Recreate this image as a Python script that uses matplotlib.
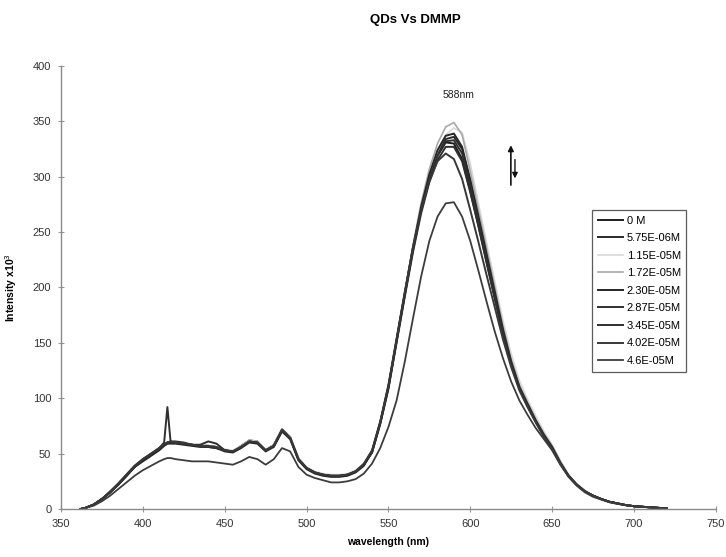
import matplotlib
matplotlib.use('Agg')
import matplotlib.pyplot as plt

plt.rcParams['font.family'] = ['Liberation Sans', 'DejaVu Sans']

# wavelength grid (nm), finer around the 415 nm spike
wl = [362, 365, 370, 375, 380, 385, 390, 395, 400, 405,
      410, 413, 415, 417, 420, 425, 430, 435, 440, 445,
      450, 455, 460, 465, 470, 475, 480, 485, 490, 495,
      500, 505, 510, 515, 520, 525, 530, 535,
      540, 545, 550, 555, 560, 565, 570, 575, 580, 585,
      590, 595, 600, 605, 610, 615, 620, 625, 630, 635,
      640, 645, 650, 655, 660, 665, 670, 675, 680, 685,
      690, 695, 700, 705, 710, 715, 720]

labels = ['0 M', '5.75E-06M', '1.15E-05M', '1.72E-05M', '2.30E-05M',
          '2.87E-05M', '3.45E-05M', '4.02E-05M', '4.6E-05M']

s0 = [0, 1, 4, 9, 15, 22, 30, 38, 44, 49,
      54, 58, 60, 60, 60, 59, 58, 57, 57, 56,
      53, 52, 56, 61, 60, 53, 57, 71, 64, 45,
      37, 33, 31, 30, 30, 31, 34, 40,
      52, 78, 111, 153, 195, 236, 271, 299, 319, 331,
      330, 316, 287, 256, 223, 190, 158, 131, 109, 93,
      79, 66, 55, 41, 30, 22, 16, 12, 9, 6.5,
      5, 3.5, 2.5, 2, 1.5, 1, 0.5]
s1 = [0, 1, 4, 9, 16, 23, 31, 39, 45, 50,
      55, 58, 60, 61, 61, 60, 58, 57, 57, 55,
      53, 52, 57, 62, 61, 53, 58, 72, 65, 46,
      37, 33, 31, 30, 30, 31, 34, 40,
      52, 78, 110, 152, 194, 235, 271, 300, 321, 334,
      336, 325, 296, 263, 229, 196, 163, 134, 111, 95,
      80, 67, 56, 42, 30, 22, 16, 12, 9, 6.5,
      5, 3.5, 2.5, 2, 1.5, 1, 0.5]
s2 = [0, 1, 4, 9, 15, 22, 30, 38, 44, 49,
      54, 57, 59, 60, 60, 59, 58, 58, 57, 56,
      54, 53, 57, 62, 61, 54, 58, 71, 65, 46,
      38, 34, 32, 31, 31, 32, 35, 41,
      51, 76, 107, 148, 190, 232, 270, 300, 323, 338,
      344, 340, 312, 276, 240, 205, 170, 140, 116, 99,
      84, 70, 58, 44, 31, 23, 17, 12, 9, 6.5,
      5, 3.5, 2.5, 2, 1.5, 1, 0.5]
s3 = [0, 1, 4, 9, 15, 22, 30, 38, 44, 49,
      54, 57, 59, 60, 60, 59, 58, 57, 57, 56,
      53, 52, 56, 61, 60, 53, 57, 70, 64, 45,
      37, 33, 31, 30, 30, 31, 34, 40,
      52, 78, 110, 152, 195, 238, 276, 307, 330, 345,
      349, 338, 305, 270, 235, 200, 165, 135, 112, 96,
      81, 68, 57, 43, 31, 22, 16, 12, 9, 6.5,
      5, 3.5, 2.5, 2, 1.5, 1, 0.5]
s4 = [0, 1, 4, 9, 15, 22, 30, 38, 43, 48,
      53, 57, 59, 59, 59, 58, 57, 56, 56, 55,
      52, 51, 55, 60, 59, 52, 56, 70, 63, 44,
      36, 32, 30, 29, 29, 30, 33, 39,
      52, 78, 110, 152, 194, 236, 273, 302, 324, 337,
      339, 327, 297, 264, 230, 196, 162, 133, 110, 95,
      80, 67, 56, 42, 30, 22, 16, 12, 9, 6.5,
      5, 3.5, 2.5, 2, 1.5, 1, 0.5]
s5 = [0, 1, 4, 9, 15, 22, 30, 38, 44, 49,
      55, 60, 92, 60, 60, 59, 58, 57, 56, 55,
      53, 52, 56, 61, 60, 53, 57, 71, 64, 45,
      37, 33, 31, 30, 30, 31, 34, 40,
      51, 77, 109, 151, 193, 234, 270, 298, 319, 332,
      333, 321, 292, 260, 226, 193, 160, 132, 110, 94,
      79, 66, 55, 41, 30, 22, 16, 12, 9, 6.5,
      5, 3.5, 2.5, 2, 1.5, 1, 0.5]
s6 = [0, 1, 4, 9, 15, 22, 30, 38, 44, 49,
      54, 58, 60, 60, 60, 59, 58, 58, 61, 59,
      53, 52, 56, 61, 60, 53, 57, 71, 64, 45,
      37, 33, 31, 30, 30, 31, 34, 40,
      51, 77, 109, 151, 192, 232, 267, 295, 315, 327,
      327, 314, 286, 255, 222, 190, 158, 131, 109, 93,
      79, 66, 55, 41, 30, 22, 16, 12, 9, 6.5,
      5, 3.5, 2.5, 2, 1.5, 1, 0.5]
s7 = [0, 1, 4, 9, 15, 23, 31, 39, 45, 50,
      55, 58, 60, 61, 60, 59, 58, 57, 57, 56,
      53, 52, 56, 61, 60, 53, 57, 71, 64, 45,
      37, 33, 31, 30, 30, 31, 34, 41,
      53, 79, 112, 154, 196, 236, 270, 296, 314, 321,
      316, 298, 270, 241, 211, 182, 153, 128, 107, 92,
      78, 65, 54, 41, 30, 22, 16, 12, 9, 6.5,
      5, 3.5, 2.5, 2, 1.5, 1, 0.5]
s8 = [0, 1, 3, 7, 12, 18, 24, 30, 35, 39,
      43, 45, 46, 46, 45, 44, 43, 43, 43, 42,
      41, 40, 43, 47, 45, 40, 45, 55, 52, 38,
      31, 28, 26, 24, 24, 25, 27, 32,
      41, 55, 74, 98, 133, 172, 210, 242, 264, 276,
      277, 264, 242, 215, 187, 160, 136, 115, 98, 85,
      73, 63, 53, 40, 29, 21, 15, 11, 8.5, 6,
      4.5, 3.5, 2.5, 2, 1.5, 1, 0.5]

series = [s0, s1, s2, s3, s4, s5, s6, s7, s8]
colors = ['#1e1e1e', '#2a2a2a', '#d8d8d8', '#a8a8a8', '#262626',
          '#303030', '#2e2e2e', '#383838', '#3c3c3c']
widths = [1.4, 1.4, 1.2, 1.2, 1.4, 1.4, 1.4, 1.4, 1.3]

fig = plt.figure(figsize=(7.26, 5.57), dpi=100)
ax = fig.add_axes([0.084, 0.0862, 0.902, 0.7953])

for y, lab, c, lw in zip(series, labels, colors, widths):
    ax.plot(wl, y, color=c, lw=lw, label=lab, solid_joinstyle='round')

ax.set_xlim(350, 750)
ax.set_ylim(0, 400)
ax.set_xticks(range(350, 751, 50))
ax.set_yticks(range(0, 401, 50))

for side in ['top', 'right']:
    ax.spines[side].set_visible(False)
for side in ['left', 'bottom']:
    ax.spines[side].set_color('#8a8a8a')
    ax.spines[side].set_linewidth(1.0)
ax.tick_params(direction='inout', length=4, width=0.8, color='#999999',
               labelsize=8, labelcolor='#333333', pad=5)

ax.set_xlabel('wavelength (nm)', fontsize=7.5, fontweight='bold', labelpad=6)
ax.set_ylabel('Intensity x10$^3$', fontsize=7.5, fontweight='bold', labelpad=10)
fig.suptitle('QDs Vs DMMP', x=0.572, y=0.975, fontsize=9.5, fontweight='bold')

ax.text(593, 374, '588nm', fontsize=7.5, ha='center', va='center', color='#222222')

# up / down arrows
ax.annotate('', xy=(624.8, 331), xytext=(624.8, 290),
            arrowprops=dict(arrowstyle='-|>', color='#111111', lw=1.2, mutation_scale=8))
ax.annotate('', xy=(627.3, 296), xytext=(627.3, 318),
            arrowprops=dict(arrowstyle='-|>', color='#111111', lw=1.0, mutation_scale=8))

leg = ax.legend(loc='upper left', bbox_to_anchor=(0.808, 0.633),
                bbox_transform=fig.transFigure, fontsize=8, frameon=True,
                fancybox=False, edgecolor='#333333', handlelength=2.3,
                handletextpad=0.3, labelspacing=0.68, borderpad=0.5)
leg.get_frame().set_linewidth(0.9)

fig.savefig('out.png', dpi=100)
